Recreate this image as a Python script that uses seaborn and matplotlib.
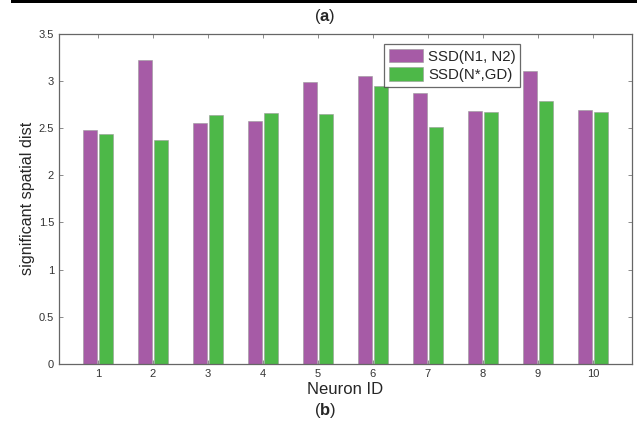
import matplotlib
matplotlib.use("Agg")
import matplotlib.pyplot as plt
import seaborn as sns
import pandas as pd
from matplotlib.patches import Rectangle

neuron_ids = ["1", "2", "3", "4", "5", "6", "7", "8", "9", "10"]
ssd_n1_n2 = [2.48, 3.22, 2.55, 2.57, 2.99, 3.05, 2.87, 2.68, 3.10, 2.69]
ssd_nstar_gd = [2.44, 2.37, 2.64, 2.66, 2.65, 2.95, 2.51, 2.67, 2.79, 2.67]
series_names = ["SSD(N1, N2)", "SSD(N*,GD)"]
colors = ["#A65BA6", "#4DB848"]

df = pd.DataFrame({
    "Neuron ID": neuron_ids * 2,
    "value": ssd_n1_n2 + ssd_nstar_gd,
    "series": [series_names[0]] * len(neuron_ids) + [series_names[1]] * len(neuron_ids),
})

sns.set_style("white")
plt.rcParams["font.family"] = ["Liberation Sans", "DejaVu Sans"]
plt.rcParams["mathtext.fontset"] = "custom"
plt.rcParams["mathtext.bf"] = "Liberation Sans:bold"
plt.rcParams["mathtext.rm"] = "Liberation Sans"

fig = plt.figure(figsize=(6.37, 4.25), dpi=100)
ax = fig.add_axes([0.0926, 0.1435, 0.8994, 0.7775])

sns.barplot(data=df, x="Neuron ID", y="value", hue="series", order=neuron_ids,
            hue_order=series_names, palette=colors, saturation=1,
            width=0.58, gap=0.155, ax=ax, errorbar=None,
            edgecolor="#999999", linewidth=0.4)

ax.set_xlim(-0.71, 9.71)
ax.set_ylim(0, 3.5)
ax.set_yticks([0, 0.5, 1, 1.5, 2, 2.5, 3, 3.5])
ax.set_yticklabels(["0", "0.5", "1", "1.5", "2", "2.5", "3", "3.5"])
ax.tick_params(direction="in", length=3, width=0.6, labelsize=8,
               labelcolor="#333333", color="#777777",
               top=True, right=True, left=True, bottom=True)
for s in ax.spines.values():
    s.set_color("#666666")
    s.set_linewidth(0.9)

ax.set_xlabel("Neuron ID", fontsize=12, labelpad=2)
ax.set_ylabel("significant spatial dist", fontsize=11.6, labelpad=3)

leg = ax.legend(loc="upper left", bbox_to_anchor=(0.555, 0.99), fontsize=10.8,
                handlelength=2.3, handleheight=1.0, frameon=True, fancybox=False,
                borderpad=0.3, labelspacing=0.25, handletextpad=0.3,
                edgecolor="#444444")
leg.get_frame().set_linewidth(0.9)

fig.add_artist(Rectangle((0.018, 0.992), 0.982, 0.008, transform=fig.transFigure,
                         facecolor="black", edgecolor="none"))
fig.text(0.51, 0.96, r"($\mathbf{a}$)", ha="center", va="center", fontsize=12)
fig.text(0.51, 0.035, r"($\mathbf{b}$)", ha="center", va="center", fontsize=12)

fig.savefig("out.png", dpi=100)
